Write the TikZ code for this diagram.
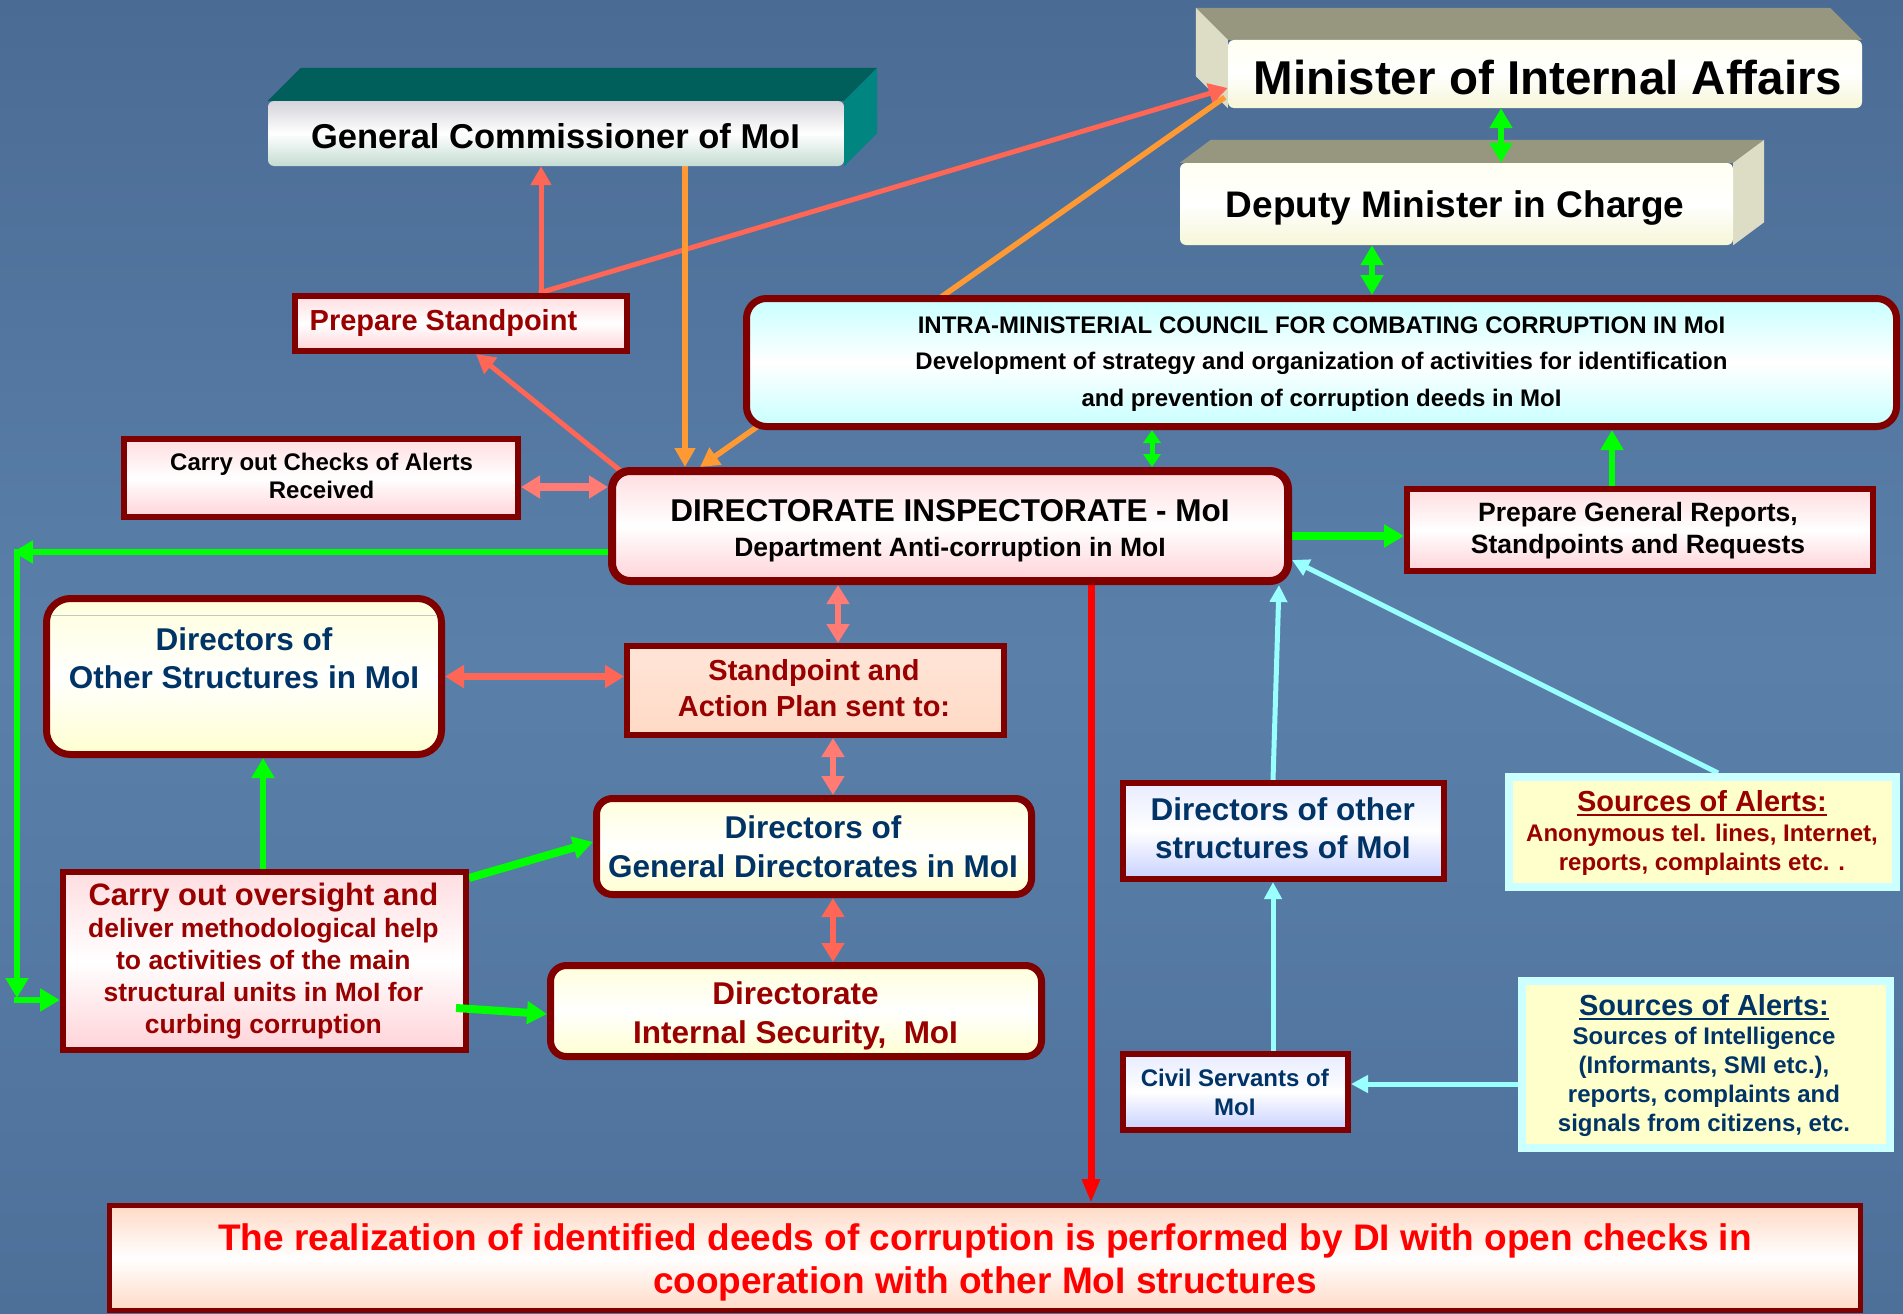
\documentclass[tikz,border=0pt]{standalone}
\usepackage{fontspec}
\setmainfont{Liberation Sans}
\usetikzlibrary{arrows.meta,calc}
\pgfdeclarelayer{back}
\pgfdeclarelayer{faces}
\pgfdeclarelayer{conn}
\pgfsetlayers{back,faces,conn,main}
\definecolor{bgTop}{HTML}{4A6B94}
\definecolor{bgMid}{HTML}{5A80AA}
\definecolor{bgBot}{HTML}{4D7099}
\definecolor{maroonB}{HTML}{800000}
\definecolor{txtRed}{HTML}{990000}
\definecolor{txtNavy}{HTML}{003366}
\definecolor{gGreen}{HTML}{00FF00}
\definecolor{salmon}{HTML}{FF6655}
\definecolor{salmonL}{HTML}{FF7B73}
\definecolor{orangeA}{HTML}{FF9933}
\definecolor{cyanA}{HTML}{99FFFF}
\definecolor{redA}{HTML}{FF0000}
\definecolor{pinkA}{HTML}{FFDDE0}
\definecolor{pinkB}{HTML}{FFD3D8}
\definecolor{cyanFill}{HTML}{C8FFFF}
\definecolor{creamA}{HTML}{FFFFDC}
\definecolor{creamB}{HTML}{FFFFD0}
\definecolor{peach}{HTML}{FFDAC6}
\definecolor{lavA}{HTML}{E8ECFF}
\definecolor{lavB}{HTML}{C8D0FF}
\definecolor{srcFill}{HTML}{FFFFCC}
\definecolor{srcEdge}{HTML}{CCFFFF}
\definecolor{tealTop}{HTML}{005E5B}
\definecolor{tealSide}{HTML}{008580}
\definecolor{khaki}{HTML}{97977F}
\definecolor{beige}{HTML}{DDDDC6}
\definecolor{gcTop}{HTML}{D4D4DA}
\definecolor{gcBot}{HTML}{C4DCD2}
\definecolor{minTop}{HTML}{FFFFF2}
\definecolor{minBot}{HTML}{F6F6D8}
\newcommand{\myul}[1]{\leavevmode\setbox0=\hbox{#1}\rlap{\rule[-4.5pt]{\wd0}{2.2pt}}\box0}
\begin{document}
\begin{tikzpicture}[x=1pt,y=-1pt,
  box/.style={draw=maroonB, line width=6pt, inner sep=0pt},
  pinkbox/.style={box, top color=pinkA, bottom color=pinkB, middle color=white},
  creambox/.style={box, top color=creamA, bottom color=creamB, middle color=white},
  lavbox/.style={box, top color=lavA, bottom color=lavB, middle color=white},
  srcbox/.style={draw=srcEdge, line width=8pt, inner sep=0pt, fill=srcFill},
  face/.style={inner sep=0pt, rounded corners=6pt},
  txt/.style={inner sep=0pt, align=center},
  gline/.style={draw=gGreen, line width=6pt, -{Triangle[length=20pt,width=22pt]}},
  gdbl/.style={draw=gGreen, line width=6pt, {Triangle[length=20pt,width=22pt]}-{Triangle[length=20pt,width=22pt]}},
  gdbls/.style={draw=gGreen, line width=5pt, {Triangle[length=13pt,width=17pt]}-{Triangle[length=13pt,width=17pt]}},
  sline/.style={draw=salmon, line width=5pt, -{Triangle[length=19pt,width=20pt]}},
  sdbl/.style={draw=salmonL, line width=6pt, {Triangle[length=19pt,width=22pt]}-{Triangle[length=19pt,width=22pt]}},
  oline/.style={draw=orangeA, line width=5.5pt, -{Triangle[length=19pt,width=20pt]}},
  cline/.style={draw=cyanA, line width=5pt, -{Triangle[length=17pt,width=17pt]}},
  rline/.style={draw=redA, line width=7pt, -{Triangle[length=24pt,width=17pt]}}
]
\begin{pgfonlayer}{back}
\path[top color=bgTop, bottom color=bgBot, middle color=bgMid] (0,0) rectangle (1903,1314);
\end{pgfonlayer}
\useasboundingbox (0,0) rectangle (1903,1314);

% 3D front faces
\node[face, minimum width=576pt, minimum height=65pt, top color=gcTop, bottom color=gcBot, middle color=white] (gcF) at (556,133.5) {};
\node[face, minimum width=634pt, minimum height=68pt, top color=minTop, bottom color=minBot, middle color=white] (min) at (1545,74) {};
\node[face, minimum width=553pt, minimum height=82pt, top color=minTop, bottom color=minBot, middle color=white] (dep) at (1456.5,204) {};

\begin{pgfonlayer}{faces}
\fill[tealTop] (gcF.north west) -- ++(33,-33) -- ($(gcF.north east)+(33,-33)$) -- (gcF.north east) -- cycle;
\fill[tealSide] (gcF.north east) -- ++(33,-33) -- ($(gcF.south east)+(33,-33)$) -- (gcF.south east) -- cycle;
\fill[khaki] (min.north west) -- ++(-32,-32) -- ($(min.north east)+(-32,-32)$) -- (min.north east) -- cycle;
\fill[beige] (min.north west) -- ++(-32,-32) -- ($(min.south west)+(-32,-32)$) -- (min.south west) -- cycle;
\fill[khaki] (dep.north west) -- ++(31,-23) -- ($(dep.north east)+(31,-23)$) -- (dep.north east) -- cycle;
\fill[beige] (dep.north east) -- ++(31,-23) -- ($(dep.south east)+(31,-23)$) -- (dep.south east) -- cycle;
\end{pgfonlayer}

% boxes
\node[pinkbox, minimum width=332pt, minimum height=55pt] (ps) at (461,323.5) {};
\node[box, line width=7pt, rounded corners=20pt, top color=cyanFill, bottom color=cyanFill, middle color=white, minimum width=1150pt, minimum height=128pt] (council) at (1321.5,362.5) {};
\node[pinkbox, minimum width=394pt, minimum height=78pt] (chk) at (321,478) {};
\node[pinkbox, line width=8pt, rounded corners=18pt, minimum width=676pt, minimum height=110pt] (di) at (950,526) {};
\node[pinkbox, minimum width=466pt, minimum height=82pt] (pgr) at (1640,530) {};
\node[creambox, line width=7pt, rounded corners=24pt, minimum width=395pt, minimum height=156pt] (dOth) at (244,676.5) {};
\node[box, top color=peach!70!white, bottom color=peach, minimum width=377pt, minimum height=89pt] (sap) at (815.5,690.5) {};
\node[creambox, line width=7pt, rounded corners=16pt, minimum width=435pt, minimum height=96pt] (dGen) at (814,846.5) {};
\node[creambox, line width=7pt, rounded corners=16pt, minimum width=491pt, minimum height=91pt] (dis) at (796,1011) {};
\node[pinkbox, minimum width=403pt, minimum height=178pt] (ovs) at (264.5,961) {};
\node[lavbox, minimum width=321pt, minimum height=96pt] (dOthR) at (1283.5,831) {};
\node[lavbox, minimum width=225pt, minimum height=76pt] (civ) at (1235.5,1092) {};
\node[srcbox, minimum width=387pt, minimum height=110pt] (src1) at (1702.5,832) {};
\node[srcbox, minimum width=368pt, minimum height=167pt] (src2) at (1706,1064.5) {};
\node[box, line width=5pt, top color=peach, bottom color=peach, middle color=white, minimum width=1751pt, minimum height=105pt] (bot) at (985,1258) {};
\draw[gray!45, line width=1pt] ([xshift=8pt,yshift=-20pt]dOth.north west) -- ([xshift=-8pt,yshift=-20pt]dOth.north east);

% texts
\node[txt, font=\bfseries\fontsize{47.5}{50}\selectfont] (minT) at (1548,78) {Minister of Internal Affairs};
\node[txt, font=\bfseries\fontsize{34.5}{40}\selectfont] (gcT) at (555.5,136) {General Commissioner of MoI};
\node[txt, font=\bfseries\fontsize{37}{42}\selectfont] (depT) at (1455,208.5) {Deputy Minister in Charge};
\node[txt, font=\bfseries\fontsize{24}{36.5}\selectfont] (councilT) at (1321.5,364) {INTRA-MINISTERIAL COUNCIL FOR COMBATING CORRUPTION IN MoI\\Development of strategy and organization of activities for identification\\and prevention of corruption deeds in MoI};
\node[txt, font=\bfseries\fontsize{26.5}{35}\selectfont] (diT) at (950,530.5) {{\fontsize{31.5}{35}\selectfont DIRECTORATE INSPECTORATE - MoI}\\Department Anti-corruption in MoI};
\node[txt, anchor=west, text=txtRed, font=\bfseries\fontsize{29}{34}\selectfont] (psT) at (309.5,323) {Prepare Standpoint};
\node[txt, font=\bfseries\fontsize{24}{28}\selectfont] (chkT) at (321.6,476.4) {Carry out Checks of Alerts\\Received};
\node[txt, text=txtNavy, font=\bfseries\fontsize{31.5}{37.6}\selectfont] (dOthT) at (244,658.4) {Directors of\\Other Structures in MoI};
\node[txt, text=txtRed, font=\bfseries\fontsize{29}{36.3}\selectfont] (sapT) at (814,688) {Standpoint and\\Action Plan sent to:};
\node[txt, text=txtNavy, font=\bfseries\fontsize{31.5}{38.8}\selectfont] (dGenT) at (813,847) {Directors of\\General Directorates in MoI};
\node[txt, text=txtRed, font=\bfseries\fontsize{31.5}{39}\selectfont] (disT) at (795.5,1015.5) {Directorate\\Internal Security,\ \ MoI};
\node[txt, text=txtRed, font=\bfseries\fontsize{26.5}{31.8}\selectfont] (ovsT) at (263.4,961) {{\fontsize{31}{31.8}\selectfont Carry out oversight and}\\deliver methodological help\\to activities of the main\\structural units in MoI for\\curbing corruption};
\node[txt, font=\bfseries\fontsize{26.5}{31.7}\selectfont] (pgrT) at (1638,530.6) {Prepare General Reports,\\Standpoints and Requests};
\node[txt, text=txtNavy, font=\bfseries\fontsize{31.5}{37.6}\selectfont] (dOthRT) at (1282.8,828.3) {Directors of other\\structures of MoI};
\node[txt, text=txtNavy, font=\bfseries\fontsize{24}{29}\selectfont] (civT) at (1234.8,1092.2) {Civil Servants of\\MoI};
\node[txt, text=txtRed, font=\bfseries\fontsize{24}{29.2}\selectfont] (src1T) at (1702,833) {{\fontsize{29}{29.2}\selectfont\myul{Sources of Alerts:}}\\Anonymous tel. lines, Internet,\\reports, complaints etc. .};
\node[txt, text=txtNavy, font=\bfseries\fontsize{24}{29}\selectfont] (src2T) at (1704,1066) {{\fontsize{29}{29}\selectfont\myul{Sources of Alerts:}}\\Sources of Intelligence\\(Informants, SMI etc.),\\reports, complaints and\\signals from citizens, etc.};
\node[txt, text=redA, font=\bfseries\fontsize{37}{43.6}\selectfont] (botT) at (985,1262.4) {The realization of identified deeds of corruption is performed by DI with open checks in\\cooperation with other MoI structures};

% free-end coordinates
\coordinate (gTL) at (13,552);
\coordinate (gV1) at (17,549);
\coordinate (gV2) at (17,998);
\coordinate (gR) at (14,1000);
\coordinate (chkE) at ([yshift=-9pt]chk.east);
\coordinate (src2W) at ([yshift=-19.5pt]src2.west);

\begin{pgfonlayer}{conn}
% salmon / orange
\draw[sline] ([xshift=80pt]ps.north) -- ([xshift=-15pt]gcF.south);
\draw[sline] ([xshift=78pt]ps.north) -- ([yshift=-14pt]min.west);
\draw[oline] ([xshift=129pt]gcF.south) -- ([xshift=-265pt]di.north);
\draw[oline] ([xshift=-3pt,yshift=11pt]min.south west) -- ([xshift=-250pt]di.north);
\draw[sline] ([xshift=14pt,yshift=-5pt]di.north west) -- ([xshift=15pt]ps.south);
\draw[sdbl, line width=8pt] (chkE) -- (chkE -| di.west);
\draw[sdbl] ([xshift=-112pt]di.south) -- ([xshift=22.5pt]sap.north);
\draw[sdbl] ([xshift=17.5pt]sap.south) -- ([xshift=19pt]dGen.north);
\draw[sdbl, draw=salmon] ([xshift=19pt]dGen.south) -- ([xshift=37pt]dis.north);
\draw[sdbl, draw=salmon, line width=7pt] (dOth.east) -- (dOth.east -| sap.west);
% green
\draw[gline] ([yshift=-26pt]di.west) -- (gTL);
\draw[gline] (gV1) -- (gV2);
\draw[gline] (gR) -- ([yshift=-39pt]ovs.west);
\draw[gline] ([xshift=-1.5pt]ovs.north) -- ([xshift=19pt]dOth.south);
\draw[gline, line width=8pt] ([yshift=-9pt]ovs.north east) -- ([yshift=4.5pt]dGen.west);
\draw[gline, line width=8pt] ([yshift=-10pt]di.east) -- ([yshift=-6pt]pgr.west);
\draw[gline] ([xshift=-28pt]pgr.north) -- ([xshift=290.5pt]council.south);
\draw[gdbls] ([xshift=-169.5pt]council.south) -- ([xshift=202pt]di.north);
\draw[gdbl] ([xshift=-84.5pt]dep.south) -- ([xshift=50.5pt]council.north);
\draw[gdbl] ([xshift=-44pt]min.south) -- ([xshift=44.5pt]dep.north);
% cyan
\draw[cline] ([xshift=-10.5pt]dOthR.north) -- ([xshift=329pt]di.south);
\draw[cline] ([xshift=15.5pt]src1.north) -- ([yshift=-34pt]di.east);
\draw[cline] ([xshift=37.5pt]civ.north) -- ([xshift=-10.5pt]dOthR.south);
\draw[cline] (src2W) -- (src2W -| civ.east);
% red
\draw[rline] ([xshift=141pt]di.south) -- ([xshift=106pt]bot.north);
\end{pgfonlayer}
\draw[gline, line width=8pt] ([xshift=-13pt,yshift=-47pt]ovs.east) -- ([yshift=-3pt]dis.west);
\end{tikzpicture}
\end{document}
